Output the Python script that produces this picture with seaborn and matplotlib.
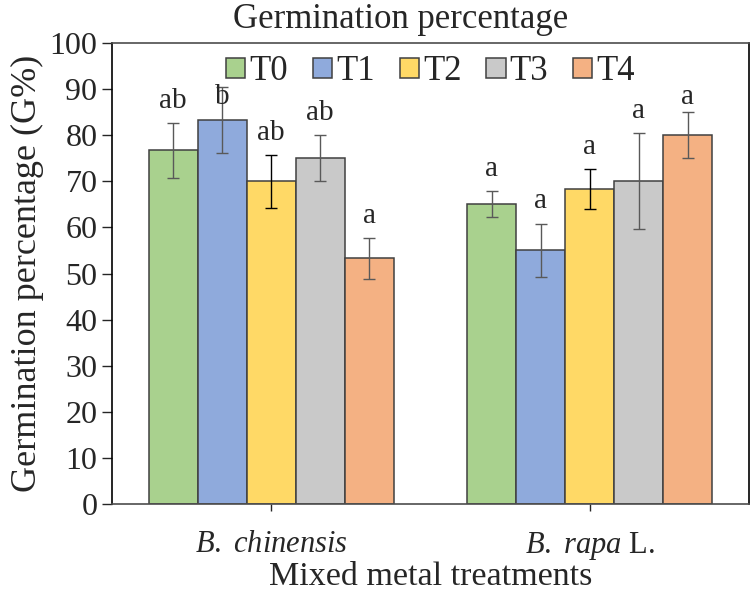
import pandas as pd
import matplotlib
matplotlib.use("Agg")
import matplotlib.pyplot as plt
import seaborn as sns

# data
species = ["B. chinensis", "B. rapa L."]
treatments = ["T0", "T1", "T2", "T3", "T4"]
chinensis_mean = [76.7, 83.3, 70.0, 75.0, 53.3]
chinensis_err = [6.0, 7.2, 5.7, 5.0, 4.4]
chinensis_letters = ["ab", "b", "ab", "ab", "a"]
rapa_mean = [65.0, 55.0, 68.3, 70.0, 80.0]
rapa_err = [2.8, 5.8, 4.4, 10.4, 5.0]
rapa_letters = ["a", "a", "a", "a", "a"]

bar_colors = ["#A9D18E", "#8FAADC", "#FFD966", "#C9C9C9", "#F4B183"]
err_colors = ["#595959", "#595959", "#000000", "#595959", "#595959"]

rows = []
for sp, means, errs, lets in [(species[0], chinensis_mean, chinensis_err, chinensis_letters),
                              (species[1], rapa_mean, rapa_err, rapa_letters)]:
    for t, m, e, l in zip(treatments, means, errs, lets):
        rows.append({"Species": sp, "Treatment": t, "G": m, "err": e, "letter": l})
df = pd.DataFrame(rows)

sns.set_style("ticks")
plt.rcParams["font.family"] = ["Liberation Serif", "DejaVu Serif"]
plt.rcParams["mathtext.fontset"] = "custom"
plt.rcParams["mathtext.rm"] = "Liberation Serif"
plt.rcParams["mathtext.it"] = "Liberation Serif:italic"

fig = plt.figure(figsize=(7.52, 5.94), dpi=100)
ax = fig.add_axes([0.1489, 0.1515, 0.8471, 0.7761])

sns.barplot(data=df, x="Species", y="G", hue="Treatment", order=species,
            hue_order=treatments, palette=bar_colors, saturation=1, width=0.77,
            gap=0, errorbar=None, edgecolor="#404040", linewidth=1.1, ax=ax,
            legend=True)

# error bars and significance letters on top of each bar
for i, t in enumerate(treatments):
    for j, sp in enumerate(species):
        bar = ax.containers[i][j]
        row = df[(df.Species == sp) & (df.Treatment == t)].iloc[0]
        xc = bar.get_x() + bar.get_width() / 2
        ax.errorbar(xc, row.G, yerr=row.err, fmt="none", ecolor=err_colors[i],
                    elinewidth=1.0, capsize=4.5, capthick=1.0, zorder=5)
        # letters stay below the legend row
        ax.text(xc, min(row.G + row.err + 2.0, 85.5), row.letter, ha="center",
                va="bottom", fontsize=21, zorder=6)

ax.set_xlim(-0.5, 1.5)
ax.set_ylim(0, 100)
ax.set_yticks(range(0, 101, 10))
ax.set_xticks([0, 1])
ax.set_xticklabels([r"$\mathit{B.}$ $\mathit{chinensis}$", r"$\mathit{B.}$ $\mathit{rapa}$ L."])
ax.tick_params(axis="y", labelsize=23, length=7, width=1.0, pad=3.5, direction="out")
ax.tick_params(axis="x", labelsize=22, length=5, width=1.0, pad=14, direction="out")
ax.set_xlabel("Mixed metal treatments", fontsize=24.5, labelpad=-1)
ax.set_ylabel("Germination percentage (G%)", fontsize=26, labelpad=4)

for side in ["left", "right"]:
    ax.spines[side].set_color("#000000")
    ax.spines[side].set_linewidth(1.2)
for side in ["top", "bottom"]:
    ax.spines[side].set_color("#4d4d4d")
    ax.spines[side].set_linewidth(1.2)

ax.legend(loc="upper center", bbox_to_anchor=(0.5, 1.0), ncol=5, frameon=False,
          fontsize=25, handlelength=0.55, handleheight=0.5, handletextpad=0.12,
          columnspacing=0.72, borderaxespad=0.1, borderpad=0.25)

fig.text(401 / 752, 1 - 19 / 594, "Germination percentage", ha="center",
         va="center", fontsize=25)

fig.savefig("out.png", dpi=100)
